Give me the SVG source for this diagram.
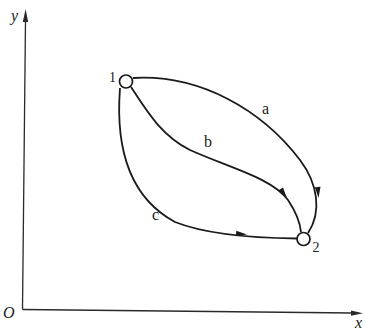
<svg xmlns="http://www.w3.org/2000/svg" width="365" height="331" viewBox="0 0 365 331">
<style>
.ln{fill:none;stroke:#1a1a1a;stroke-width:1.8}
.ax{fill:none;stroke:#2a2a2a;stroke-width:1.3}
.t{font-family:"Liberation Serif",serif;font-size:16px;fill:#1a1a1a}
.i{font-style:italic}
.d{font-size:14px}
.nd{fill:#fff;stroke:#1a1a1a;stroke-width:1.7}
</style>
<defs>
<polygon id="ah" points="0,0 -11,-2.8 -11,2.8" fill="#1a1a1a"/>
</defs>
<rect width="365" height="331" fill="#fff"/>
<g id="axes">
<path class="ax" d="M22.5,309.5 L25.5,20"/>
<polygon points="25.6,9 22.8,22 28.2,22" fill="#2a2a2a"/>
<path class="ax" d="M22.5,309.5 L352,313"/>
<polygon points="363,313.2 351,310.4 351,315.8" fill="#2a2a2a"/>
<text class="t i" x="11" y="21">y</text>
<text class="t i" x="3" y="318">O</text>
<text class="t i" x="355" y="328">x</text>
</g>
<g id="connectors">
<path id="a" class="ln" d="M133,78 C200,74 262,110 300,160 C318,184 322,212 308,233"/>
<use href="#ah" transform="translate(318.5,198) rotate(86)"/>
<text class="t" x="262" y="114">a</text>
<path id="b" class="ln" d="M131,87 C145,108 160,135 190,150 C230,168 272,178 288,200 C296,212 300,222 301,232"/>
<use href="#ah" transform="translate(287,198) rotate(55)"/>
<text class="t" x="204" y="147">b</text>
<path id="c" class="ln" d="M120,88 C116,140 125,195 175,222 C205,234 255,238 297,238.5"/>
<use href="#ah" transform="translate(247,234.5) rotate(5)"/>
<text class="t" x="152" y="220">c</text>
</g>
<g id="node1">
<circle class="nd" cx="126" cy="81.5" r="6.5"/>
<text class="t d" x="109" y="82">1</text>
</g>
<g id="node2">
<circle class="nd" cx="303.5" cy="239" r="6.5"/>
<text class="t d" x="312.5" y="252">2</text>
</g>
</svg>
